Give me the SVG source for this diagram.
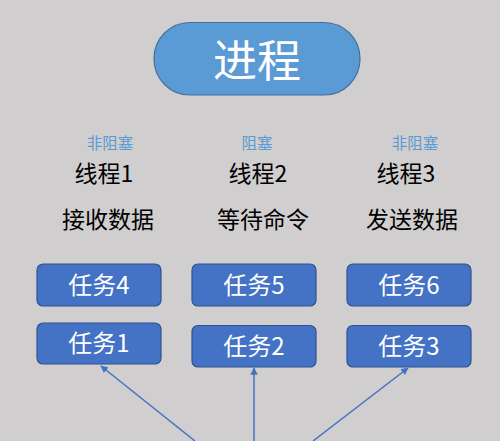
<svg xmlns="http://www.w3.org/2000/svg" width="500" height="441" viewBox="0 0 500 441">
<defs>
<style>
text{font-family:"Noto Sans CJK SC","Noto Sans",sans-serif;text-anchor:middle}
.task{fill:#4472c4;stroke:#2f528f;stroke-width:1.2}
.tt{fill:#fff;font-size:24px}
.lbl{fill:#000;font-size:23px}
.sm{fill:#5b9bd5;font-size:15.5px}
.conn{stroke:#4472c4;stroke-width:1.5;fill:none;marker-end:url(#ah)}
</style>
<marker id="ah" viewBox="0 0 10 10" refX="9" refY="5" markerWidth="5" markerHeight="5" orient="auto" markerUnits="strokeWidth">
<path d="M0,0 L10,5 L0,10 z" fill="#4472c4"/>
</marker>
</defs>
<rect width="500" height="441" fill="#d0cece"/>
<g id="process">
<rect x="154" y="22.5" width="206" height="72.5" rx="36" fill="#5b9bd5" stroke="#41719c" stroke-width="1.2"/>
<text x="257" y="77" fill="#fff" font-size="44">进程</text>
</g>
<g id="thread1">
<text class="sm" x="110" y="149">非阻塞</text>
<text class="lbl" x="104" y="182">线程1</text>
<text class="lbl" x="108" y="228">接收数据</text>
</g>
<g id="thread2">
<text class="sm" x="257" y="149">阻塞</text>
<text class="lbl" x="258" y="182">线程2</text>
<text class="lbl" x="263" y="228">等待命令</text>
</g>
<g id="thread3">
<text class="sm" x="415" y="149">非阻塞</text>
<text class="lbl" x="406" y="182">线程3</text>
<text class="lbl" x="412" y="228">发送数据</text>
</g>
<g id="task4"><rect class="task" x="37" y="264" width="124" height="42" rx="6"/><text class="tt" x="99" y="294">任务4</text></g>
<g id="task5"><rect class="task" x="192" y="264" width="124" height="42" rx="6"/><text class="tt" x="254" y="294">任务5</text></g>
<g id="task6"><rect class="task" x="347" y="264" width="124" height="42" rx="6"/><text class="tt" x="409" y="294">任务6</text></g>
<g id="task1"><rect class="task" x="37" y="323" width="124" height="41" rx="6"/><text class="tt" x="99" y="352">任务1</text></g>
<g id="task2"><rect class="task" x="192" y="325.5" width="124" height="41.5" rx="6"/><text class="tt" x="254" y="355">任务2</text></g>
<g id="task3"><rect class="task" x="347" y="325.5" width="124" height="41.5" rx="6"/><text class="tt" x="409" y="355">任务3</text></g>
<g id="connectors">
<line class="conn" x1="195" y1="441" x2="101" y2="366"/>
<line class="conn" x1="254" y1="441" x2="254" y2="368"/>
<line class="conn" x1="313" y1="441" x2="408" y2="368"/>
</g>
</svg>
